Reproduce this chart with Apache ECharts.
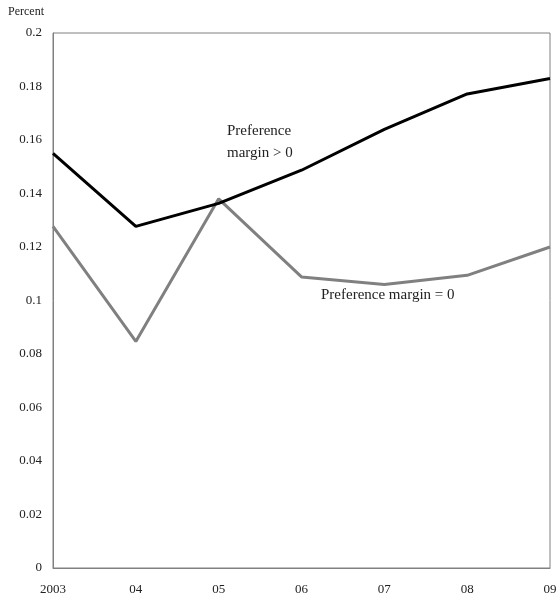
<!DOCTYPE html>
<html><head><meta charset="utf-8">
<script src="https://cdn.jsdelivr.net/npm/echarts@6/dist/echarts.min.js"></script>
<style>html,body{margin:0;padding:0;background:#fff}#c{width:557px;height:604px}</style>
</head><body><div id="c"></div>
<script>
const categories = ['2003','04','05','06','07','08','09'];
const marginPositive = [0.155, 0.1277, 0.1363, 0.1487, 0.164, 0.1772, 0.183];
const marginZero = [0.1277, 0.0847, 0.138, 0.1088, 0.106, 0.1094, 0.120];
const yTicks = [0, 0.02, 0.04, 0.06, 0.08, 0.1, 0.12, 0.14, 0.16, 0.18, 0.2];
const font = '"Liberation Serif", serif';
const chart = echarts.init(document.getElementById('c'));
chart.setOption({
  animation: false,
  grid: {left: 53, right: 7, top: 33, bottom: 36, outerBoundsMode: 'none', containLabel: false,
    show: true, borderColor: '#808080', borderWidth: 1},
  xAxis: {
    type: 'category', data: categories, boundaryGap: false,
    axisLine: {lineStyle: {color: '#808080'}}, axisTick: {show: false},
    axisLabel: {color: '#222', fontFamily: font, fontSize: 13, margin: 15}
  },
  yAxis: {
    type: 'value', min: 0, max: 0.2, interval: 0.02,
    axisLine: {show: true, lineStyle: {color: '#808080'}}, axisTick: {show: false}, splitLine: {show: false},
    axisLabel: {color: '#222', fontFamily: font, fontSize: 13, margin: 11,
      formatter: v => { const t = yTicks.find(x => Math.abs(x - v) < 1e-9); return String(+(t ?? v).toFixed(2)); }}
  },
  graphic: [
    {type: 'text', left: 8, top: 6, style: {text: 'Percent', font: '12px ' + font, fill: '#222'}},
    {type: 'text', left: 227, top: 120, style: {text: 'Preference\nmargin > 0', font: '15px ' + font, fill: '#222', lineHeight: 22}},
    {type: 'text', left: 321, top: 288, style: {text: 'Preference margin = 0', font: '15px ' + font, fill: '#222'}}
  ],
  series: [
    {type: 'line', data: marginPositive, symbol: 'none', lineStyle: {color: '#000', width: 3}, z: 3},
    {type: 'line', data: marginZero, symbol: 'none', lineStyle: {color: '#808080', width: 3}, z: 2}
  ]
});
</script></body></html>
